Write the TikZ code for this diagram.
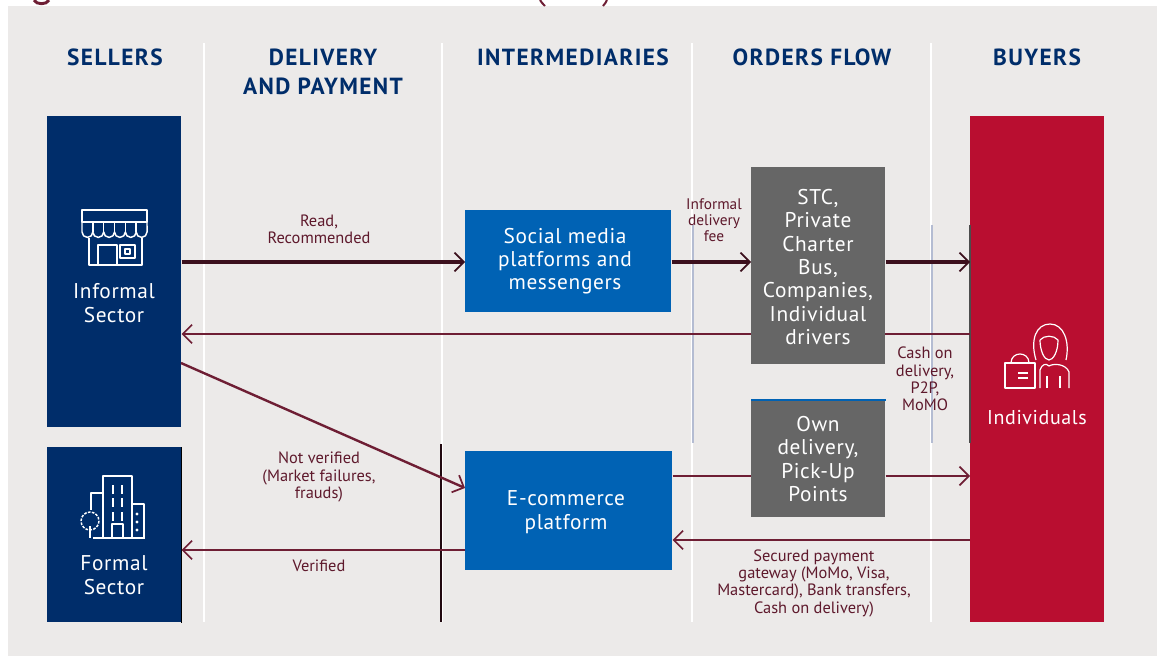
\documentclass[tikz,border=0pt]{standalone}
\usepackage{fontspec}
\setmainfont{PT Sans}
\usetikzlibrary{arrows.meta}
\definecolor{bgg}{HTML}{ECEAE9}
\definecolor{navy}{HTML}{002D6A}
\definecolor{rblue}{HTML}{0062B4}
\definecolor{crim}{HTML}{B90E30}
\definecolor{gry}{HTML}{666666}
\definecolor{maroon}{HTML}{6E1E34}
\definecolor{sep}{HTML}{B4BCD2}
\tikzset{
 x=0.75pt,y=-0.75pt,
 box/.style={draw=none,inner sep=0pt,anchor=north west},
 head/.style={font=\bfseries\fontsize{17.5}{22}\selectfont\addfontfeature{LetterSpace=6},text=navy,align=center,anchor=center},
 boxtext/.style={font=\fontsize{16}{17.5}\selectfont\addfontfeature{LetterSpace=3},text=white,align=center,anchor=center},
 lbl/.style={font=\fontsize{12.3}{13}\selectfont,text=maroon!85!black,align=center,anchor=center},
 conn/.style={draw=maroon,line width=1.8pt,-{Straight Barb[length=7pt,width=14pt,line width=1.3pt]}},
 plain conn/.style={draw=maroon,line width=1.8pt},
 thick conn/.style={conn,draw=black!45!maroon,line width=2.8pt},
 icon/.style={draw=white,line width=1.1pt,line join=round},
 seam/.style={line width=1.4pt},
}
\begin{document}
\begin{tikzpicture}
\useasboundingbox (0,0) rectangle (1157,656);
\fill[white] (0,0) rectangle (1157,656);
\fill[bgg] (8,6) rectangle (1157,656);
% title fragments
\draw[maroon,line width=2.2pt] (34,0) .. controls (36,5) and (47,5) .. (49,0);
\draw[maroon,line width=1.5pt] (540,0) .. controls (541,2) and (543,4) .. (545,6);
\draw[maroon,line width=1.5pt] (607,0) .. controls (606,2) and (605,4) .. (603,6);
% separators
\foreach \sx in {204,442,692,931} \draw[white,line width=1.6pt] (\sx,43) -- (\sx,622);
\draw[sep,seam] (693,225) -- (693,443);
\draw[sep,seam] (932,225) -- (932,443);
\draw[black!70!maroon,line width=2pt] (441,444) -- (441,622);
% boxes
\node[box,fill=navy,minimum width=134*0.75pt,minimum height=311*0.75pt] (informal) at (47,116) {};
\node[box,fill=navy,minimum width=134*0.75pt,minimum height=175*0.75pt] (formal) at (47,447) {};
\node[box,fill=rblue,minimum width=206*0.75pt,minimum height=102*0.75pt] (social) at (465,210) {};
\node[box,fill=rblue,minimum width=207*0.75pt,minimum height=119*0.75pt] (ecom) at (465,451) {};
\node[box,fill=crim,minimum width=134*0.75pt,minimum height=506*0.75pt] (ind) at (970,116) {};
\draw[black,line width=1pt] (formal.north east) -- (formal.south east);
\draw[black!70,line width=1pt] (970,225) -- (970,443);
% connectors
\coordinate (a1) at (0,262);
\coordinate (a2) at (0,334);
\coordinate (a3) at (0,476);
\coordinate (a4) at (0,540);
\coordinate (a5) at (0,550);
\coordinate (d1) at (181,363);
\coordinate (d2) at (465,488);
\draw[conn] (ind.west |- a2) -- (informal.east |- a2);
% grey boxes cover the long return line
\node[box,fill=gry,minimum width=134*0.75pt,minimum height=197*0.75pt] (stc) at (751,167) {};
\node[box,fill=gry,minimum width=134*0.75pt,minimum height=117*0.75pt] (own) at (751,400) {};
\draw[rblue,line width=1.2pt] (own.north west) -- (own.north east);
\draw[thick conn] (informal.east |- a1) -- (social.west |- a1);
\draw[thick conn] (social.east |- a1) -- (stc.west |- a1);
\draw[thick conn] (stc.east |- a1) -- (ind.west |- a1);
\draw[conn] (d1) -- (d2);
\draw[plain conn] (ecom.east |- a3) -- (own.west |- a3);
\draw[conn] (own.east |- a3) -- (ind.west |- a3);
\draw[conn] (ind.west |- a4) -- (ecom.east |- a4);
\draw[conn] (ecom.west |- a5) -- (formal.east |- a5);
% box text
\node[boxtext] (t1) at (114,303) {Informal\\Sector};
\node[boxtext] (t2) at (114,575) {Formal\\Sector};
\node[boxtext] (t3) at (565,261) {Social media\\platforms and\\messengers};
\node[boxtext] (t4) at (566,512) {E-commerce\\platform};
\node[boxtext] (t5) at (818,267) {STC,\\Private\\Charter\\Bus,\\Companies,\\Individual\\drivers};
\node[boxtext] (t6) at (818,459) {Own\\delivery,\\Pick-Up\\Points};
\node[boxtext,font=\fontsize{15}{17}\selectfont\addfontfeature{LetterSpace=3}] (t7) at (1037,418) {Individuals};
% headers
\node[head] (h1) at (115,57) {SELLERS};
\node[head] (h2) at (323,72) {DELIVERY\\AND PAYMENT};
\node[head] (h3) at (573,57) {INTERMEDIARIES};
\node[head] (h4) at (812,57) {ORDERS FLOW};
\node[head] (h5) at (1037,57) {BUYERS};
% labels
\node[lbl] (l1) at (319,229) {Read,\\Recommended};
\node[lbl,font=\fontsize{11.5}{11.8}\selectfont] (l2) at (714,220) {Informal\\delivery\\fee};
\node[lbl] (l3) at (925,379) {Cash on\\delivery,\\P2P,\\MoMO};
\node[lbl] (l4) at (319,477) {Not verified\\(Market failures,\\frauds)};
\node[lbl] (l5) at (319,566) {Verified};
\node[lbl] (l6) at (814,583) {Secured payment\\gateway (MoMo, Visa,\\Mastercard), Bank transfers,\\Cash on delivery)};
% shop icon
\draw[icon] (82,210) rectangle (147,222);
\draw[icon] (82,222) -- (82,232) \foreach \i in {0,...,5} { arc[start angle=180,end angle=0,radius=5.42] } -- (147,222);
\foreach \i in {1,...,5} \draw[icon] (82+\i*10.83,222) -- (82+\i*10.83,232);
\draw[icon] (89,238) -- (89,265) -- (142,265) -- (142,238);
\draw[icon] (98,245) rectangle (117,265);
\draw[icon] (120,245) rectangle (135,258);
\draw[icon] (125,249) rectangle (130,254);
% building icon
\draw[icon] (103,538) -- (103,476) -- (132,476) -- (132,538);
\draw[icon] (103,493) -- (91,493) -- (91,510);
\draw[icon] (132,504) -- (144,504) -- (144,538);
\foreach \yy in {485,498,512} \foreach \xx in {113,122} \draw[icon,line width=1.8pt] (\xx,\yy) -- (\xx,\yy+9);
\draw[icon] (112,538) -- (112,524) -- (123,524) -- (123,538);
\foreach \yy in {514,522,530} \fill[white] (137,\yy) circle (1.6);
\draw[icon] (93,538) -- (145,538);
\draw[icon,dash pattern=on 2pt off 1pt] (90,521) circle (9);
\draw[icon] (90,526) -- (90,538);
% person icon
\begin{scope}[icon/.append style={line width=0.9pt}]
\draw[icon] (1036,360) .. controls (1030,340) and (1036,324) .. (1050,324) .. controls (1064,324) and (1070,342) .. (1066,360);
\draw[icon] (1040,340) .. controls (1044,335) and (1054,335) .. (1058,340) .. controls (1058,352) and (1053,360) .. (1049,360) .. controls (1044,360) and (1040,350) .. (1040,340);
\draw[icon] (1040,388) -- (1040,370) .. controls (1042,364) and (1046,363) .. (1049,366) .. controls (1054,363) and (1066,364) .. (1069,372) -- (1069,388);
\draw[icon] (1060,376) -- (1060,388);
\draw[icon] (1047,376) -- (1047,388);
\draw[icon] (1005,363) rectangle (1035,388);
\draw[icon] (1011,363) .. controls (1011,351) and (1029,351) .. (1029,363);
\draw[icon] (1018,373) -- (1028,373) (1018,378) -- (1028,378);
\end{scope}
\end{tikzpicture}
\end{document}
